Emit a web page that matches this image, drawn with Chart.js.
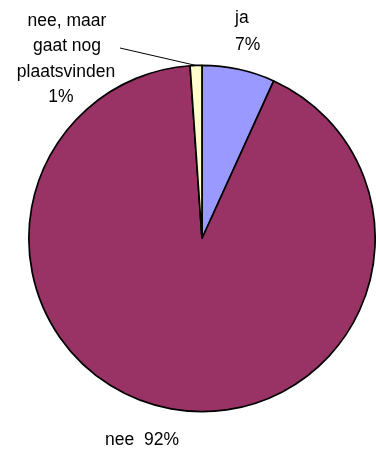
<!DOCTYPE html>
<html>
<head>
<meta charset="utf-8">
<script src="https://cdn.jsdelivr.net/npm/chart.js@4/dist/chart.umd.min.js"></script>
<style>
  html, body { margin: 0; padding: 0; background: #fff; }
  #wrap { width: 376px; height: 450px; }
</style>
</head>
<body>
<div id="wrap"><canvas id="myChart" width="376" height="450"></canvas></div>
<script>
'use strict'
// slices clockwise from the top
let categories = ['ja', 'nee', 'nee, maar gaat nog plaatsvinden'];
let values = [6.8, 92.1, 1.1];
let percentLabels = ['7%', '92%', '1%'];
let sliceColors = ['#9999ff', '#993366', '#ffffcc'];

// labels drawn around the pie, like the original sheet
let labelPlugin = {
  id: 'sliceLabels',
  afterDraw(chart) {
    let ctx = chart.ctx;
    ctx.save();
    ctx.fillStyle = '#000';
    ctx.font = '17.5px "Liberation Sans", Arial, sans-serif';
    ctx.textBaseline = 'middle';

    // ja
    ctx.textAlign = 'left';
    ctx.fillText(categories[0], 235, 18);
    ctx.fillText(percentLabels[0], 235, 45);

    // nee, maar gaat nog plaatsvinden
    ctx.textAlign = 'center';
    ctx.fillText('nee, maar', 67, 21);
    ctx.fillText('gaat nog', 67, 46);
    ctx.fillText('plaatsvinden', 66, 72);
    ctx.fillText(percentLabels[2], 61, 97);

    // leader line to the small slice
    let arc = chart.getDatasetMeta(0).data[2];
    let mid = (arc.startAngle + arc.endAngle) / 2;
    ctx.strokeStyle = '#000';
    ctx.lineWidth = 1;
    ctx.beginPath();
    ctx.moveTo(120, 48);
    ctx.lineTo(arc.x + Math.cos(mid) * arc.outerRadius, arc.y + Math.sin(mid) * arc.outerRadius);
    ctx.stroke();

    // nee
    ctx.fillText(categories[1] + '  ' + percentLabels[1], 142, 440);
    ctx.restore();
  }
};

let ctx = document.getElementById('myChart').getContext('2d');
let chart = new Chart(ctx, {
  type: 'pie',
  data: {
    labels: categories,
    datasets: [
      {
        data: values,
        backgroundColor: sliceColors,
        borderColor: '#000',
        borderWidth: 1.7
      }
    ]
  },
  options: {
    responsive: false,
    animation: false,
    layout: { padding: { left: 28, right: 0, top: 64, bottom: 37 } },
    plugins: {
      legend: { display: false },
      tooltip: { enabled: false }
    }
  },
  plugins: [labelPlugin]
});
</script>
</body>
</html>
